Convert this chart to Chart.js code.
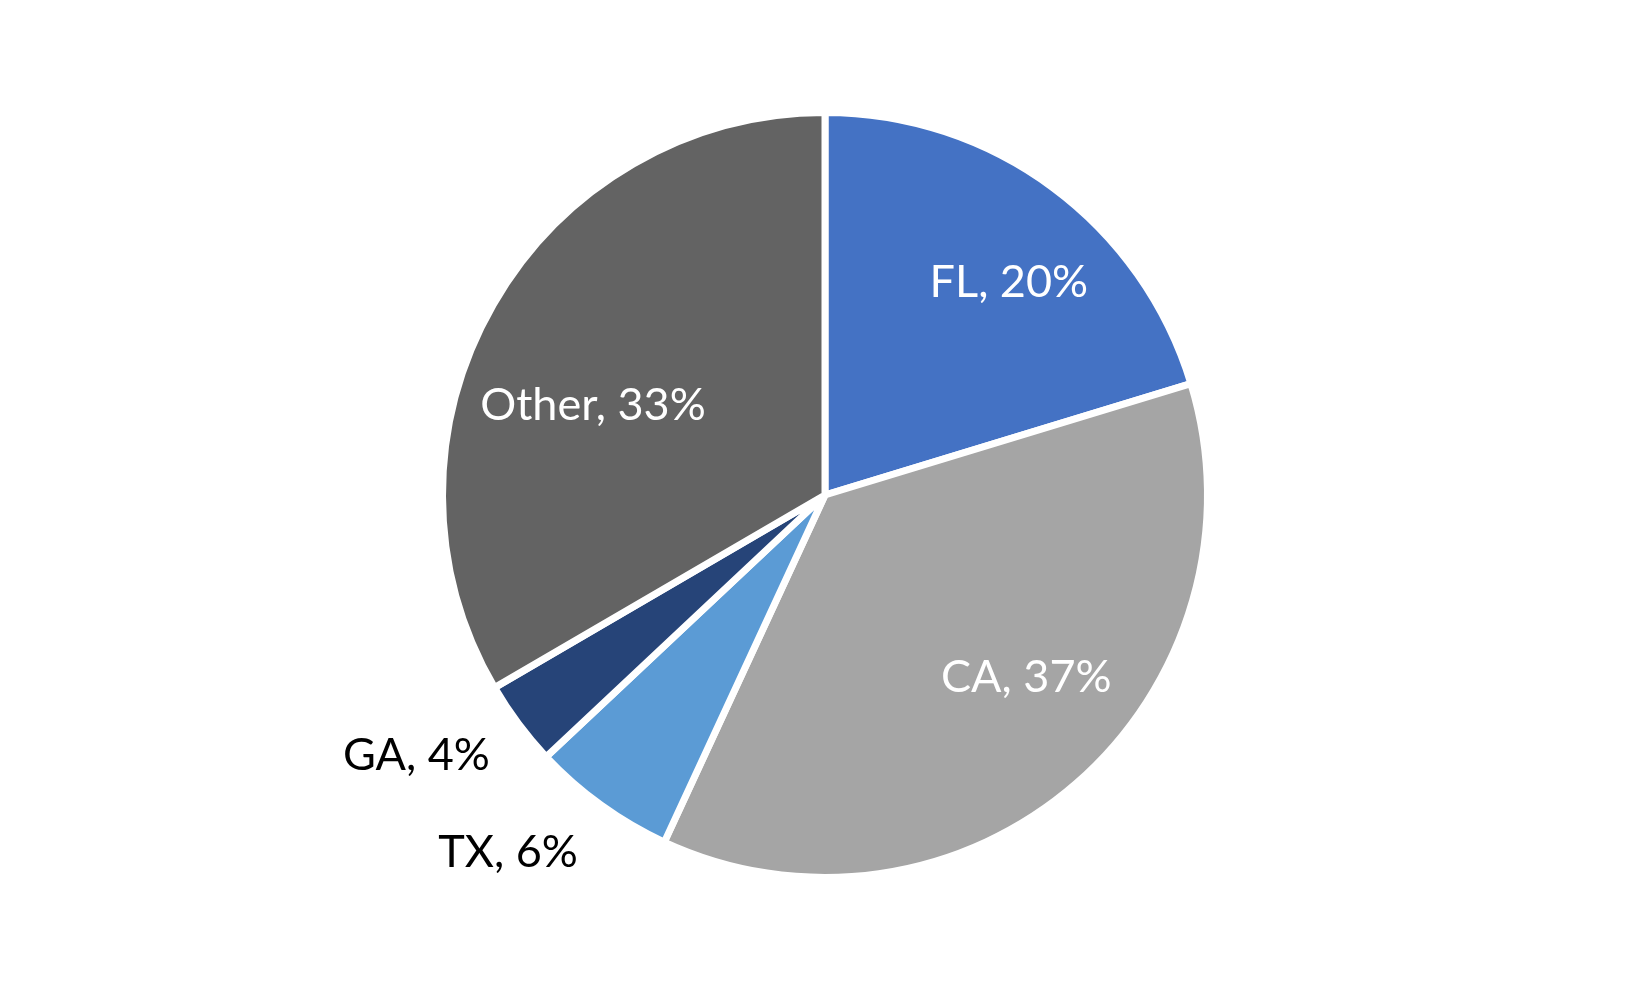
<!DOCTYPE html>
<html>
<head>
<meta charset="utf-8">
<script src="https://cdn.jsdelivr.net/npm/chart.js@4"></script>
<style>
  html, body { margin: 0; padding: 0; background: #ffffff; }
  #wrap { width: 1650px; height: 990px; }
</style>
</head>
<body>
<div id="wrap"><canvas id="mainCanvas" width="1650" height="990"></canvas></div>
<script>
// data
var states = ['FL', 'CA', 'TX', 'GA', 'Other'];
var shares = [20.3, 36.6, 6.1, 3.6, 33.4];
var sliceColors = ['#4472C4', '#A5A5A5', '#5B9BD5', '#264478', '#636363'];

// label placement (fraction of radius, angle nudge in degrees)
var labelRadius = [0.735, 0.71, 1.25, 1.267, 0.65];
var labelNudge = [4.3, -6.8, 5.7, 4.2, -8.8];
var labelColor = ['#ffffff', '#ffffff', '#000000', '#000000', '#ffffff'];

var sliceLabels = {
  id: 'sliceLabels',
  afterDatasetsDraw: function(chart) {
    var ctx = chart.ctx;
    var meta = chart.getDatasetMeta(0);
    ctx.save();
    ctx.font = '45px Lato';
    ctx.textAlign = 'center';
    ctx.textBaseline = 'middle';
    meta.data.forEach(function(arc, i) {
      var p = arc.getProps(['x', 'y', 'startAngle', 'endAngle', 'outerRadius'], true);
      var mid = (p.startAngle + p.endAngle) / 2 + labelNudge[i] * Math.PI / 180;
      var r = p.outerRadius * labelRadius[i];
      ctx.fillStyle = labelColor[i];
      ctx.fillText(states[i] + ', ' + Math.round(shares[i]) + '%', p.x + Math.cos(mid) * r, p.y + Math.sin(mid) * r);
    });
    ctx.restore();
  }
};

var ctx = document.getElementById('mainCanvas').getContext('2d');
var pie = new Chart(ctx, {
  type: 'pie',
  data: {
    labels: states,
    datasets: [{
      data: shares,
      backgroundColor: sliceColors,
      borderColor: '#ffffff',
      borderWidth: 7,
      hoverBorderWidth: 7
    }]
  },
  options: {
    responsive: false,
    maintainAspectRatio: false,
    animation: false,
    layout: { padding: { top: 109, bottom: 109 } },
    plugins: {
      legend: { display: false },
      tooltip: { enabled: false }
    }
  },
  plugins: [sliceLabels]
});
</script>
</body>
</html>
